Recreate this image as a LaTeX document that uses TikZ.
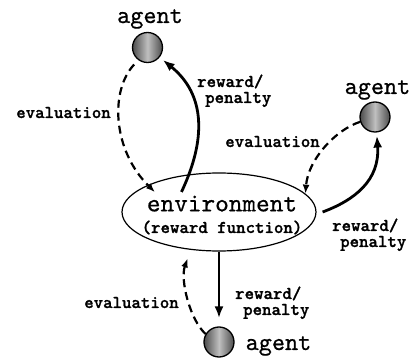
\documentclass[tikz,border=0pt]{standalone}
\usepackage{fontspec}
\newfontfamily\agentfont{lmmono10-regular.otf}[FakeBold=0.6]
\newfontfamily\labelfont{lmmonolt10-bold.otf}[FakeBold=1.2]
\usetikzlibrary{arrows.meta,shapes.geometric}

\begin{document}
\begin{tikzpicture}[x=1pt,y=-1pt,
  agent/.style={circle,draw,line width=1.3pt,minimum size=30pt,inner sep=0pt,
    left color=black!70,right color=black!70,middle color=black!25},
  agentname/.style={font=\agentfont\fontsize{25}{25}\selectfont,anchor=base,inner sep=0pt},
  lbl/.style={font=\labelfont\fontsize{18}{16}\selectfont,inner sep=0pt},
  rwd/.style={lbl,align=left,anchor=base west},
  feedback/.style={line width=2.8pt,-{Latex[length=12pt,width=9pt]}},
  evalarrow/.style={line width=2.2pt,dash pattern=on 8pt off 5pt,-{Latex[length=9pt,width=7pt]}},
]
\useasboundingbox (0,0) rectangle (413,358);

% agents and the environment
\node[agent] (ag1) at (147.5,47.5) {};
\node[agent] (ag2) at (375,117) {};
\node[agent] (ag3) at (219,342) {};
\node[ellipse,draw,line width=1.2pt,minimum width=194pt,minimum height=78pt,
      inner sep=0pt] (env) at (219,212) {};
\node[align=center,anchor=base,inner sep=0pt] (envtxt) at (222,233)
  {{\agentfont\fontsize{26}{26}\selectfont environment}\\[8pt]
   {\labelfont\fontsize{18}{18}\selectfont (reward function)}};

% agent names
\node[agentname] (t1) at (150,23) {agent};
\node[agentname] (t2) at (377.5,94) {agent};
\node[agentname] (t3) at (278.5,350) {agent};

% top agent
\draw[feedback,shorten >=4pt] ([xshift=-3pt,yshift=-17pt]env.133)
  .. controls (206,140) and (206,95) .. (ag1.-39);
\draw[evalarrow,shorten <=6pt] (ag1.234.5)
  .. controls (110,90) and (112,150) .. ([yshift=-10pt]env.155);
\node[lbl,anchor=base] (e1) at (63.5,118) {evaluation};
\node[rwd] (r1) at (197,103) {reward/\\\hspace{8pt}penalty};

% right agent
\draw[evalarrow] (ag2.198)
  .. controls (335,130) and (308,160) .. (env.12);
\draw[feedback,shorten >=3pt] ([xshift=6pt]env.east)
  .. controls (355,200) and (380,180) .. (ag2.-84);
\node[lbl,anchor=base] (e2) at (272.5,147) {evaluation};
\node[rwd] (r2) at (332,247) {reward/\\\hspace{8pt}penalty};

% bottom agent
\draw[feedback,shorten >=8pt] (env.south) -- (ag3.north);
\draw[evalarrow] (ag3.149)
  .. controls (190,320) and (180,280) .. ([yshift=-9pt]env.230);
\node[lbl,anchor=base] (e3) at (131.5,308) {evaluation};
\node[rwd] (r3) at (235,315) {reward/\\\hspace{8pt}penalty};
\end{tikzpicture}
\end{document}
